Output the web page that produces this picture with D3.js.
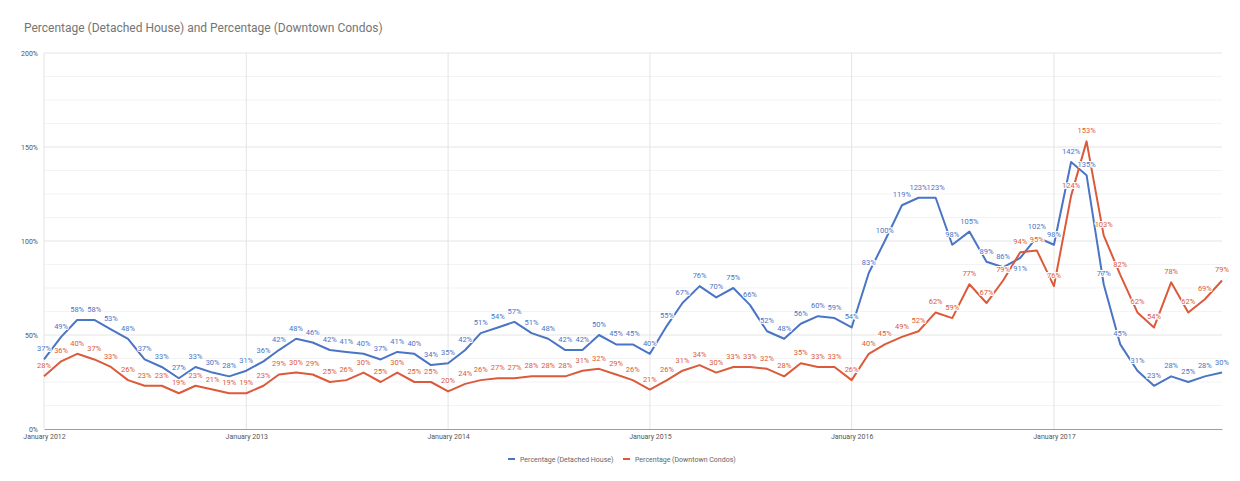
<!DOCTYPE html>
<html>
<head>
<meta charset="utf-8">
<script src="https://cdn.jsdelivr.net/npm/d3@7"></script>
<style>
  body { margin: 0; background: #fff; }
  svg { font-family: Roboto, "Noto Sans", sans-serif; display: block; }
</style>
</head>
<body>
<svg id="chart" width="1240" height="481"></svg>
<script>
// monthly values, Jan 2012 .. Nov 2017
const startMonth = new Date(2012, 0, 1);
const detached = [
  37, 49, 58, 58, 53, 48, 37, 33, 27, 33, 30, 28,
  31, 36, 42, 48, 46, 42, 41, 40, 37, 41, 40, 34,
  35, 42, 51, 54, 57, 51, 48, 42, 42, 50, 45, 45,
  40, 55, 67, 76, 70, 75, 66, 52, 48, 56, 60, 59,
  54, 83, 100, 119, 123, 123, 98, 105, 89, 86, 91, 102,
  98, 142, 135, 77, 45, 31, 23, 28, 25, 28, 30
];
const condos = [
  28, 36, 40, 37, 33, 26, 23, 23, 19, 23, 21, 19,
  19, 23, 29, 30, 29, 25, 26, 30, 25, 30, 25, 25,
  20, 24, 26, 27, 27, 28, 28, 28, 31, 32, 29, 26,
  21, 26, 31, 34, 30, 33, 33, 32, 28, 35, 33, 33,
  26, 40, 45, 49, 52, 62, 59, 77, 67, 79, 94, 95,
  76, 124, 153, 103, 82, 62, 54, 78, 62, 69, 79
];
const yTicks = [0, 50, 100, 150, 200];
const seriesNames = ["Percentage (Detached House)", "Percentage (Downtown Condos)"];
const seriesColors = ["#4a74c4", "#dc5a3a"];
const chartTitle = "Percentage (Detached House) and Percentage (Downtown Condos)";

const months = detached.map((_, i) => d3.timeMonth.offset(startMonth, i));
const series = [detached, condos].map((vals, k) => ({
  name: seriesNames[k],
  color: seriesColors[k],
  points: vals.map((v, i) => ({ date: months[i], value: v, i }))
}));

const svg = d3.select("#chart");
const margin = { left: 44, right: 18, top: 53, bottom: 52 };
const width = 1240, height = 481;

const x = d3.scaleTime()
  .domain(d3.extent(months))
  .range([margin.left, width - margin.right]);
const y = d3.scaleLinear()
  .domain([0, 200])
  .range([height - margin.bottom, margin.top]);

svg.append("text")
  .attr("x", 24).attr("y", 32)
  .attr("font-size", 12).attr("fill", "#757575")
  .text(chartTitle);

// minor gridlines
const minor = d3.range(0, 200, 12.5).filter(v => v % 50 !== 0);
svg.append("g").selectAll("line").data(minor).join("line")
  .attr("x1", margin.left).attr("x2", width - margin.right)
  .attr("y1", d => y(d)).attr("y2", d => y(d))
  .attr("stroke", "#f3f3f3").attr("stroke-width", 1);

// major gridlines + y labels
const yAxis = d3.axisLeft(y).tickValues(yTicks).tickSize(0).tickFormat(d => d + "%");
svg.append("g")
  .attr("transform", `translate(${margin.left - 3},0)`)
  .call(yAxis)
  .call(g => g.select(".domain").remove())
  .call(g => g.selectAll("text").attr("font-size", 7).attr("fill", "#555").attr("font-family", "Roboto"));
svg.append("g").selectAll("line").data(yTicks.filter(d => d > 0)).join("line")
  .attr("x1", margin.left).attr("x2", width - margin.right)
  .attr("y1", d => y(d)).attr("y2", d => y(d))
  .attr("stroke", "#e4e4e4").attr("stroke-width", 1);

// vertical gridlines at each January
const januaries = d3.timeYear.range(startMonth, d3.timeMonth.offset(months[months.length - 1], 1));
svg.append("g").selectAll("line").data(januaries).join("line")
  .attr("x1", d => x(d)).attr("x2", d => x(d))
  .attr("y1", y(200)).attr("y2", y(0))
  .attr("stroke", "#e4e4e4").attr("stroke-width", 1);

const xAxis = d3.axisBottom(x).tickValues(januaries).tickSize(0).tickPadding(5)
  .tickFormat(d3.timeFormat("January %Y"));
svg.append("g")
  .attr("transform", `translate(0,${y(0)})`)
  .call(xAxis)
  .call(g => g.select(".domain").attr("stroke", "#9e9e9e"))
  .call(g => g.selectAll("text").attr("font-size", 7).attr("fill", "#555").attr("font-family", "Roboto"));

// lines
const line = d3.line().x(d => x(d.date)).y(d => y(d.value));
svg.append("g").selectAll("path").data(series).join("path")
  .attr("d", d => line(d.points))
  .attr("fill", "none")
  .attr("stroke", d => d.color)
  .attr("stroke-width", 2)
  .attr("stroke-linejoin", "round");

// data labels; when both series nearly coincide, the lower one's label drops below its line
function labelY(d, k) {
  const other = series[1 - k].points[d.i].value;
  const crowded = Math.abs(other - d.value) < 5 && d.value < other;
  return crowded ? y(d.value) + 13 : y(d.value) - 8;
}
series.forEach((s, k) => {
  svg.append("g").selectAll("text").data(s.points).join("text")
    .attr("x", d => x(d.date))
    .attr("y", d => labelY(d, k))
    .attr("text-anchor", "middle")
    .attr("font-size", 7.5)
    .attr("fill", s.color)
    .attr("stroke", "#fff").attr("stroke-width", 2).attr("paint-order", "stroke")
    .text(d => d.value + "%");
});

// legend
const legend = svg.append("g").attr("transform", "translate(508,459)");
const legendX = [0, 115];
series.forEach((s, i) => {
  const g = legend.append("g").attr("transform", `translate(${legendX[i]},0)`);
  g.append("line").attr("x1", 0).attr("x2", 7).attr("y1", 0).attr("y2", 0)
    .attr("stroke", s.color).attr("stroke-width", 2);
  g.append("text").attr("x", 12).attr("y", 2.5)
    .attr("font-size", 7).attr("fill", "#666")
    .text(s.name);
});
</script>
</body>
</html>
